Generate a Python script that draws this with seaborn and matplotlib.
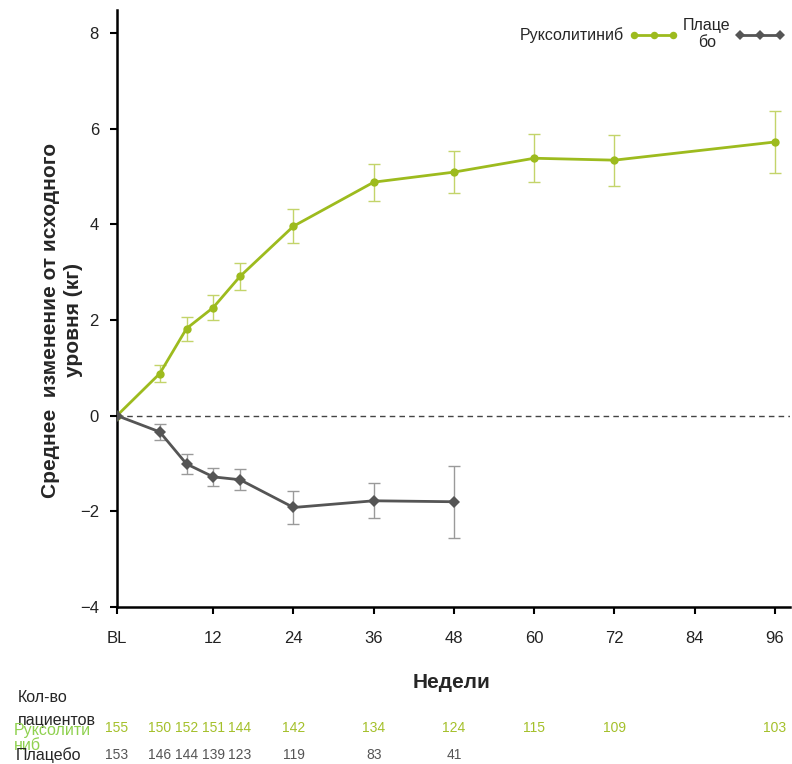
import matplotlib
matplotlib.use('Agg')
import matplotlib.pyplot as plt
import matplotlib.transforms as mtransforms
import seaborn as sns
import pandas as pd

# weeks (0 = baseline "BL")
weeks_rux = [0, 4, 8, 12, 16, 24, 36, 48, 60, 72, 96]
mean_rux = [0, 0.88, 1.82, 2.26, 2.91, 3.96, 4.88, 5.09, 5.38, 5.34, 5.72]
err_rux = [0, 0.17, 0.25, 0.27, 0.28, 0.35, 0.39, 0.44, 0.50, 0.53, 0.65]
n_rux = [155, 150, 152, 151, 144, 142, 134, 124, 115, 109, 103]

weeks_pbo = [0, 4, 8, 12, 16, 24, 36, 48]
mean_pbo = [0, -0.34, -1.01, -1.28, -1.34, -1.92, -1.78, -1.80]
err_pbo = [0, 0.16, 0.20, 0.19, 0.22, 0.34, 0.37, 0.75]
n_pbo = [153, 146, 144, 139, 123, 119, 83, 41]

tick_weeks = [0, 12, 24, 36, 48, 60, 72, 84, 96]
tick_labels = ['BL', '12', '24', '36', '48', '60', '72', '84', '96']

BL_POS = -2.4  # baseline is drawn a bit left of week 0

col_rux = '#9dbb1e'
col_rux_err = '#c3d46a'
col_pbo = '#555555'
col_pbo_err = '#9a9a9a'


def pos(w):
    return [BL_POS if v == 0 else v for v in w]


sns.set_style('ticks')
plt.rcParams['font.family'] = ['Liberation Sans', 'DejaVu Sans']

df = pd.concat([
    pd.DataFrame({'x': pos(weeks_rux), 'y': mean_rux, 'grp': 'Руксолитиниб'}),
    pd.DataFrame({'x': pos(weeks_pbo), 'y': mean_pbo, 'grp': 'Плаце\nбо'}),
])

fig = plt.figure(figsize=(7.92, 7.64), dpi=100)
ax = fig.add_axes([0.1477, 0.2055, 0.8493, 0.7815])

ax.axhline(0, color='#444444', linestyle=(0, (4, 3)), linewidth=1, zorder=1)

ax.errorbar(pos(weeks_rux), mean_rux, yerr=err_rux, fmt='none', ecolor=col_rux_err,
            elinewidth=1, capsize=4, zorder=2)
ax.errorbar(pos(weeks_pbo), mean_pbo, yerr=err_pbo, fmt='none', ecolor=col_pbo_err,
            elinewidth=1, capsize=4, zorder=2)

sns.lineplot(data=df, x='x', y='y', hue='grp', style='grp',
             palette={'Руксолитиниб': col_rux, 'Плаце\nбо': col_pbo},
             markers={'Руксолитиниб': 'o', 'Плаце\nбо': 'D'},
             dashes=False, linewidth=2, markersize=6, markeredgewidth=0,
             sort=False, ax=ax, zorder=3)

ax.set_xlim(BL_POS, 98.2)
ax.set_ylim(-4, 8.48)
ax.set_yticks([-4, -2, 0, 2, 4, 6, 8])
ax.set_yticklabels(['\u22124', '\u22122', '0', '2', '4', '6', '8'])
ax.set_xticks(pos(tick_weeks))
ax.set_xticklabels(tick_labels)
for lab in ax.get_xticklabels() + ax.get_yticklabels():
    lab.set_fontsize(12)
    lab.set_color('#222222')
ax.tick_params(axis='both', direction='out', length=5, width=1.5, color='black')
ax.tick_params(axis='x', pad=12)
ax.tick_params(axis='y', pad=8)
for s in ['top', 'right']:
    ax.spines[s].set_visible(False)
for s in ['left', 'bottom']:
    ax.spines[s].set_linewidth(1.8)
    ax.spines[s].set_color('black')

ax.set_xlabel('')
ax.set_ylabel('Среднее  изменение от исходного\nуровня (кг)', fontsize=15,
              fontweight='bold', linespacing=1.3)
ax.yaxis.set_label_coords(-0.05, 0.48)
fig.text(0.57, 1 - 683 / 764, 'Недели', fontsize=15, fontweight='bold',
         ha='center', va='center')

handles, labels = ax.get_legend_handles_labels()
leg = ax.legend(handles, labels, loc='upper right', bbox_to_anchor=(1.005, 1.0), ncol=2,
                frameon=False, markerfirst=False, fontsize=11.5, handlelength=3.1,
                numpoints=3, markerscale=0.9,
                columnspacing=0.3, handletextpad=0.3, borderaxespad=0.1)
for t in leg.get_texts():
    t.set_multialignment('center')

# patients at risk table
trans = mtransforms.blended_transform_factory(ax.transData, fig.transFigure)
fig.text(18 / 792, 1 - 709 / 764, 'Кол-во\nпациентов', fontsize=11.5,
         ha='left', va='center', linespacing=1.6)
fig.text(14 / 792, 1 - 738 / 764, 'Руксолити\nниб', fontsize=11.5, color='#8fd14f',
         ha='left', va='center', linespacing=1.0)
fig.text(16 / 792, 1 - 755 / 764, 'Плацебо', fontsize=11.5,
         ha='left', va='center')
for w, n in zip(pos(weeks_rux), n_rux):
    ax.text(w, 1 - 728 / 764, str(n), transform=trans, ha='center', va='center',
            fontsize=10, color='#a4c02a', clip_on=False)
for w, n in zip(pos(weeks_pbo), n_pbo):
    ax.text(w, 1 - 755 / 764, str(n), transform=trans, ha='center', va='center',
            fontsize=10, color='#555555', clip_on=False)

fig.savefig('out.png', dpi=100)
